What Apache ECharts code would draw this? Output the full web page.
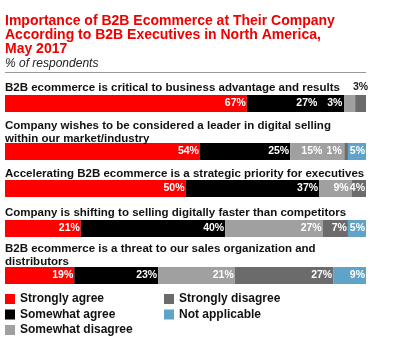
<!DOCTYPE html>
<html>
<head>
<meta charset="utf-8">
<script src="https://cdn.jsdelivr.net/npm/echarts@6/dist/echarts.min.js"></script>
<style>
    html, body {margin: 0; padding: 0; background: #fff;}
    #chart {width: 410px; height: 354px;}
</style>
</head>
<body>
<div id="chart"></div>
<script>
var questions = [
    "B2B ecommerce is critical to business advantage and results",
    "Company wishes to be considered a leader in digital selling\nwithin our market/industry",
    "Accelerating B2B ecommerce is a strategic priority for executives",
    "Company is shifting to selling digitally faster than competitors",
    "B2B ecommerce is a threat to our sales organization and\ndistributors"
];
var answers = ["Strongly agree", "Somewhat agree", "Somewhat disagree", "Strongly disagree", "Not applicable"];
var colors = ["#ff0000", "#000000", "#a0a0a0", "#6b6b6b", "#5fa3c8"];

// one array per answer, one value per question
var stronglyAgree = [67, 54, 50, 21, 19];
var somewhatAgree = [27, 25, 37, 40, 23];
var somewhatDisagree = [3, 15, 9, 27, 21];
var stronglyDisagree = [3, 1, 4, 7, 27];
var notApplicable = [null, 5, null, 5, 9];
var values = [stronglyAgree, somewhatAgree, somewhatDisagree, stronglyDisagree, notApplicable];

// layout of each row: title top, bar top
var titleTops = [82, 120, 168, 207, 243];
var barTops = [95, 143, 180, 220, 267];
var BAR_H = 17;

var FONT = "Liberation Sans";

// label tweaks where slices are too thin: [row, answer] -> extra settings
var labelTweaks = {
    "0-1": {distance: 27},
    "0-2": {position: "inside", dx: -15, line: true},
    "0-3": {position: "inside", dy: -16, color: "#222", line: true},
    "1-2": {distance: 22},
    "1-3": {position: "inside", dx: -12, line: true},
    "2-2": {distance: 3}
};

var titles = [
    {
        text: "Importance of B2B Ecommerce at Their Company\nAccording to B2B Executives in North America,\nMay 2017",
        left: 5, top: 14, padding: 0,
        textStyle: {color: "#f00000", fontFamily: FONT, fontWeight: "bold", fontSize: 14, lineHeight: 14}
    },
    {
        text: "% of respondents",
        left: 5, top: 58, padding: 0,
        textStyle: {color: "#222", fontFamily: FONT, fontStyle: "italic", fontWeight: "normal", fontSize: 12}
    }
];
var grids = [], xAxes = [], yAxes = [], series = [];

questions.forEach(function (q, r) {
    titles.push({
        text: q, left: 5, top: titleTops[r], padding: 0,
        textStyle: {color: "#111", fontFamily: FONT, fontWeight: "bold", fontSize: 11.5, lineHeight: 12.5}
    });
    var total = 0;
    values.forEach(function (arr) { total += arr[r] || 0; });
    grids.push({left: 5, width: 361, top: barTops[r], height: BAR_H});
    xAxes.push({type: "value", gridIndex: r, min: 0, max: total, show: false});
    yAxes.push({type: "category", gridIndex: r, data: [q], show: false});
});

answers.forEach(function (name, c) {
    questions.forEach(function (q, r) {
        var v = values[c][r];
        var s = {
            type: "bar", name: name, stack: "row" + r,
            xAxisIndex: r, yAxisIndex: r,
            barWidth: BAR_H, barCategoryGap: 0,
            itemStyle: {color: colors[c]},
            data: [v],
            label: {
                show: v !== null, position: "insideRight", distance: 1,
                formatter: "{c}%", color: "#fff",
                fontFamily: FONT, fontWeight: "bold", fontSize: 10.5
            }
        };
        var t = labelTweaks[r + "-" + c];
        if (t) {
            if (t.distance) s.label.distance = t.distance;
            if (t.position) s.label.position = t.position;
            if (t.color) s.label.color = t.color;
            if (t.dx || t.dy) s.labelLayout = {dx: t.dx || 0, dy: t.dy || 0};
            if (t.line) s.labelLine = {show: true, lineStyle: {color: "#fff", width: 1}};
        }
        series.push(s);
    });
});

var legendText = {fontFamily: FONT, fontWeight: "bold", fontSize: 12, color: "#111"};

var option = {
    animation: false,
    title: titles,
    grid: grids,
    xAxis: xAxes,
    yAxis: yAxes,
    legend: [
        {
            data: answers.slice(0, 3), orient: "vertical", left: 5, top: 293, padding: 0,
            itemWidth: 10, itemHeight: 10, itemGap: 3.5, icon: "rect",
            selectedMode: false, textStyle: legendText
        },
        {
            data: answers.slice(3), orient: "vertical", left: 164, top: 293, padding: 0,
            itemWidth: 10, itemHeight: 10, itemGap: 3.5, icon: "rect",
            selectedMode: false, textStyle: legendText
        }
    ],
    graphic: [
        {type: "line", shape: {x1: 5, y1: 72.5, x2: 366, y2: 72.5}, style: {stroke: "#999", lineWidth: 1}}
    ],
    series: series
};

var chart = echarts.init(document.getElementById("chart"));
chart.setOption(option);
</script>
</body>
</html>
